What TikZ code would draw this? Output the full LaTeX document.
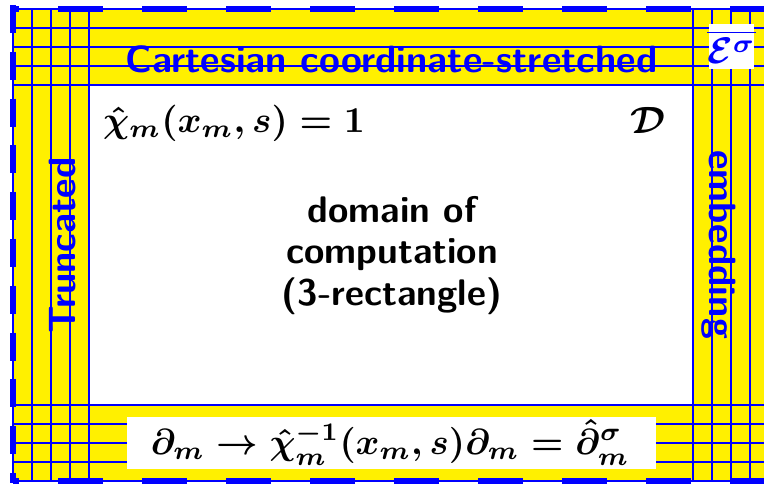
\documentclass[tikz,border=0pt]{standalone}
\usepackage{amsmath}
\usepackage{graphicx}
\definecolor{frameyellow}{RGB}{255,240,0}
\definecolor{frameblue}{RGB}{0,0,255}
\begin{document}
\begin{tikzpicture}[x=1pt,y=-1pt,
  gridline/.style={frameblue, line width=1.2pt},
  thickdash/.style={frameblue, line width=6pt},
  bluetext/.style={text=frameblue, font=\fontsize{38}{42}\selectfont\sffamily\bfseries, inner sep=0pt},
  blacktext/.style={text=black, font=\fontsize{37}{41}\selectfont\sffamily\bfseries, inner sep=0pt},
  mathtext/.style={text=black, font=\fontsize{10}{12}\selectfont\boldmath, inner sep=0pt},
  whitebox/.style={fill=white, draw=none, inner sep=0pt}]
\useasboundingbox (0,0) rectangle (764,483);
\clip (0,0) rectangle (764,483);
% yellow frame
\fill[frameyellow] (13,9) rectangle (770,481);
\foreach \x in {32,51,70,89,693,712,731,750} \draw[gridline] (\x,9) -- (\x,481);
\foreach \y in {28,47,66,85,405,424,443,462} \draw[gridline] (13,\y) -- (770,\y);
% inner domain
\node[draw=frameblue, line width=1.2pt, fill=white, minimum width=604pt, minimum height=320pt, inner sep=0pt] (domain) at (391,245) {};
% outer border
\draw[gridline] (13,9) rectangle (770,481);
\draw[thickdash, dash pattern=on 45pt off 39pt, dash phase=39pt] (13,8.5) -- (770,8.5);
\draw[thickdash, dash pattern=on 45pt off 39pt, dash phase=39pt] (13,480.5) -- (770,480.5);
\draw[thickdash, dash pattern=on 28pt off 18.8pt] (13,5) -- (13,483);
% frame labels
\node[bluetext, anchor=base] (title) at (391.5,72) {Cartesian coordinate-stretched};
\node[bluetext, anchor=base, rotate=90] (trunc) at (75,245.5) {Truncated};
\node[bluetext, anchor=base, rotate=-90] (embed) at (709,244.5) {embedding};
\node[whitebox, minimum width=45pt, minimum height=45pt] (ebox) at (731.5,46.5) {};
\node[mathtext, text=frameblue, anchor=base] (esig) at (731.5,63) {\scalebox{3.7}{$\overline{\mathcal{E}^{\sigma}}$}};
% domain content
\node[mathtext, anchor=base west] (chi) at (103,132) {\scalebox{3.65}{$\hat{\chi}_m(x_m,s)=1$}};
\node[mathtext, anchor=base east] (dcal) at (666,133) {\scalebox{3.8}{$\mathcal{D}$}};
\node[blacktext, anchor=base] (dom1) at (392,222) {domain of};
\node[blacktext, anchor=base] (dom2) at (392,263) {computation};
\node[blacktext, anchor=base] (dom3) at (392,305) {(3-rectangle)};
% bottom formula
\node[whitebox, minimum width=529pt, minimum height=52pt] (fbox) at (391.5,443) {};
\node[mathtext, anchor=base] (formula) at (390,454) {\scalebox{3.62}{$\partial_m\rightarrow\hat{\chi}_m^{-1}(x_m,s)\partial_m=\hat{\partial}_m^{\sigma}$}};
\end{tikzpicture}
\end{document}
